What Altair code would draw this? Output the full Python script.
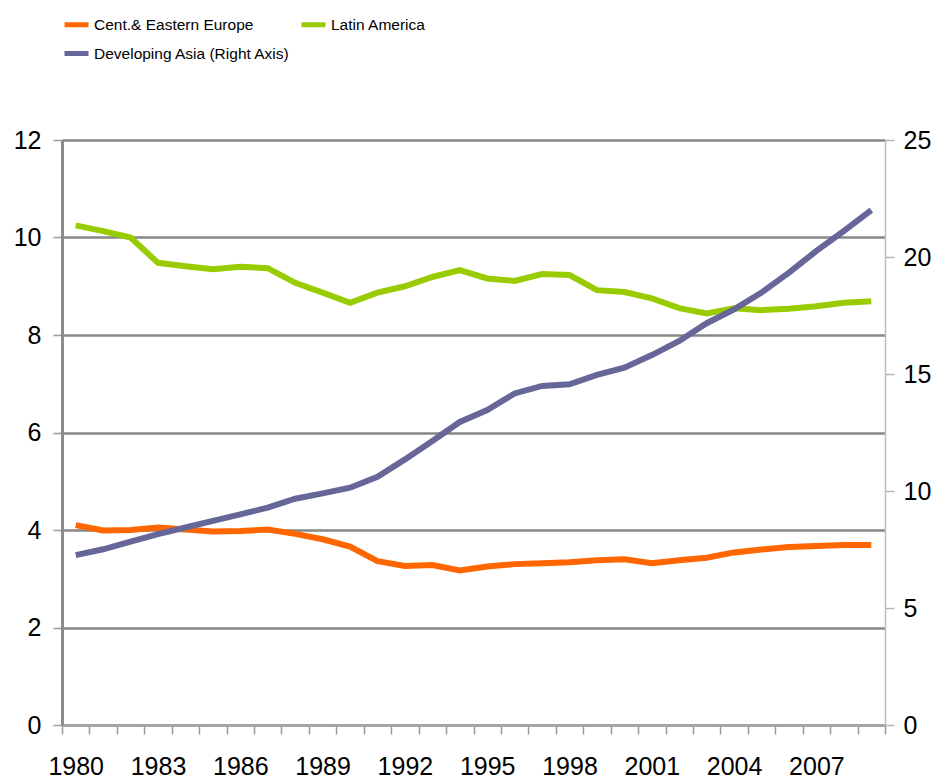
import altair as alt
import pandas as pd

years = list(range(1980, 2010))

cee = [4.10, 3.99, 4.00, 4.05, 4.01, 3.97, 3.98, 4.01, 3.92, 3.81,
       3.66, 3.36, 3.26, 3.28, 3.17, 3.25, 3.30, 3.32, 3.34, 3.38,
       3.40, 3.32, 3.38, 3.43, 3.54, 3.60, 3.65, 3.67, 3.69, 3.69]

latam = [10.25, 10.13, 10.00, 9.48, 9.41, 9.35, 9.40, 9.37, 9.07, 8.87,
         8.66, 8.87, 9.00, 9.19, 9.33, 9.16, 9.11, 9.25, 9.23, 8.92,
         8.88, 8.75, 8.55, 8.44, 8.55, 8.51, 8.54, 8.59, 8.66, 8.69]

asia = [7.26, 7.51, 7.84, 8.16, 8.44, 8.72, 9.00, 9.29, 9.67, 9.90,
        10.14, 10.61, 11.35, 12.14, 12.95, 13.46, 14.17, 14.49, 14.56, 14.96,
        15.27, 15.81, 16.41, 17.17, 17.76, 18.48, 19.33, 20.26, 21.11, 22.00]

series_names = ["Cent.& Eastern Europe", "Latin America", "Developing Asia (Right Axis)"]
series_colors = ["#FF6600", "#99CC00", "#666699"]

left_df = pd.DataFrame(
    {"year": years * 2,
     "value": cee + latam,
     "series": [series_names[0]] * len(years) + [series_names[1]] * len(years)}
)
right_df = pd.DataFrame(
    {"year": years, "value": asia, "series": [series_names[2]] * len(years)}
)

FONT = "Liberation Sans"

x_enc = alt.X(
    "year:O",
    scale=alt.Scale(paddingInner=0, paddingOuter=0),
    axis=alt.Axis(
        title=None,
        labelAngle=0,
        tickBand="extent",
        labelExpr="(datum.value - 1980) % 3 == 0 ? datum.label : ''",
        labelFontSize=25,
        labelFont=FONT,
        labelColor="#000000",
        labelPadding=20,
        tickSize=9,
        tickColor="#9a9a9a",
        tickWidth=1.5,
        domainColor="#a6a6a6",
        domainWidth=2,
        grid=False,
    ),
)

color_enc = alt.Color(
    "series:N",
    scale=alt.Scale(domain=series_names, range=series_colors),
    legend=alt.Legend(
        title=None,
        orient="none",
        direction="horizontal",
        legendX=0,
        legendY=-130,
        columns=2,
        columnPadding=0,
        rowPadding=4,
        symbolType="stroke",
        symbolSize=576,
        symbolStrokeWidth=5,
        symbolOffset=0,
        labelFont=FONT,
        labelFontSize=15.5,
        labelColor="#000000",
        labelOffset=3,
        padding=0,
        labelLimit=400,
    ),
)

left = alt.Chart(left_df).mark_line(strokeWidth=6).encode(
    x=x_enc,
    y=alt.Y(
        "value:Q",
        scale=alt.Scale(domain=[0, 12], nice=False, zero=True),
        axis=alt.Axis(
            title=None,
            orient="left",
            values=[0, 2, 4, 6, 8, 10, 12],
            labelFontSize=25,
            labelFont=FONT,
            labelColor="#000000",
            labelPadding=12,
            tickSize=9,
            tickColor="#9a9a9a",
            tickWidth=1.5,
            domainColor="#8c8c8c",
            domainWidth=3,
            grid=True,
            gridColor="#878787",
            gridWidth=2.5,
        ),
    ),
    color=color_enc,
)

right = alt.Chart(right_df).mark_line(strokeWidth=6).encode(
    x=x_enc,
    y=alt.Y(
        "value:Q",
        scale=alt.Scale(domain=[0, 25], nice=False, zero=True),
        axis=alt.Axis(
            title=None,
            orient="right",
            values=[0, 5, 10, 15, 20, 25],
            labelFontSize=25,
            labelFont=FONT,
            labelColor="#000000",
            labelPadding=9,
            tickSize=9,
            tickColor="#b5b5b5",
            tickWidth=1.5,
            domainColor="#bdbdbd",
            domainWidth=1.5,
            grid=False,
        ),
    ),
    color=color_enc,
)

chart = (
    alt.layer(left, right)
    .resolve_scale(y="independent")
    .properties(
        width=823,
        height=585,
        autosize=alt.AutoSizeParams(type="none"),
        padding={"left": 54, "top": 132, "right": 46, "bottom": 56},
    )
    .configure_view(stroke=None)
)

chart.save("out.html", embed_options={"renderer": "svg", "actions": False})
